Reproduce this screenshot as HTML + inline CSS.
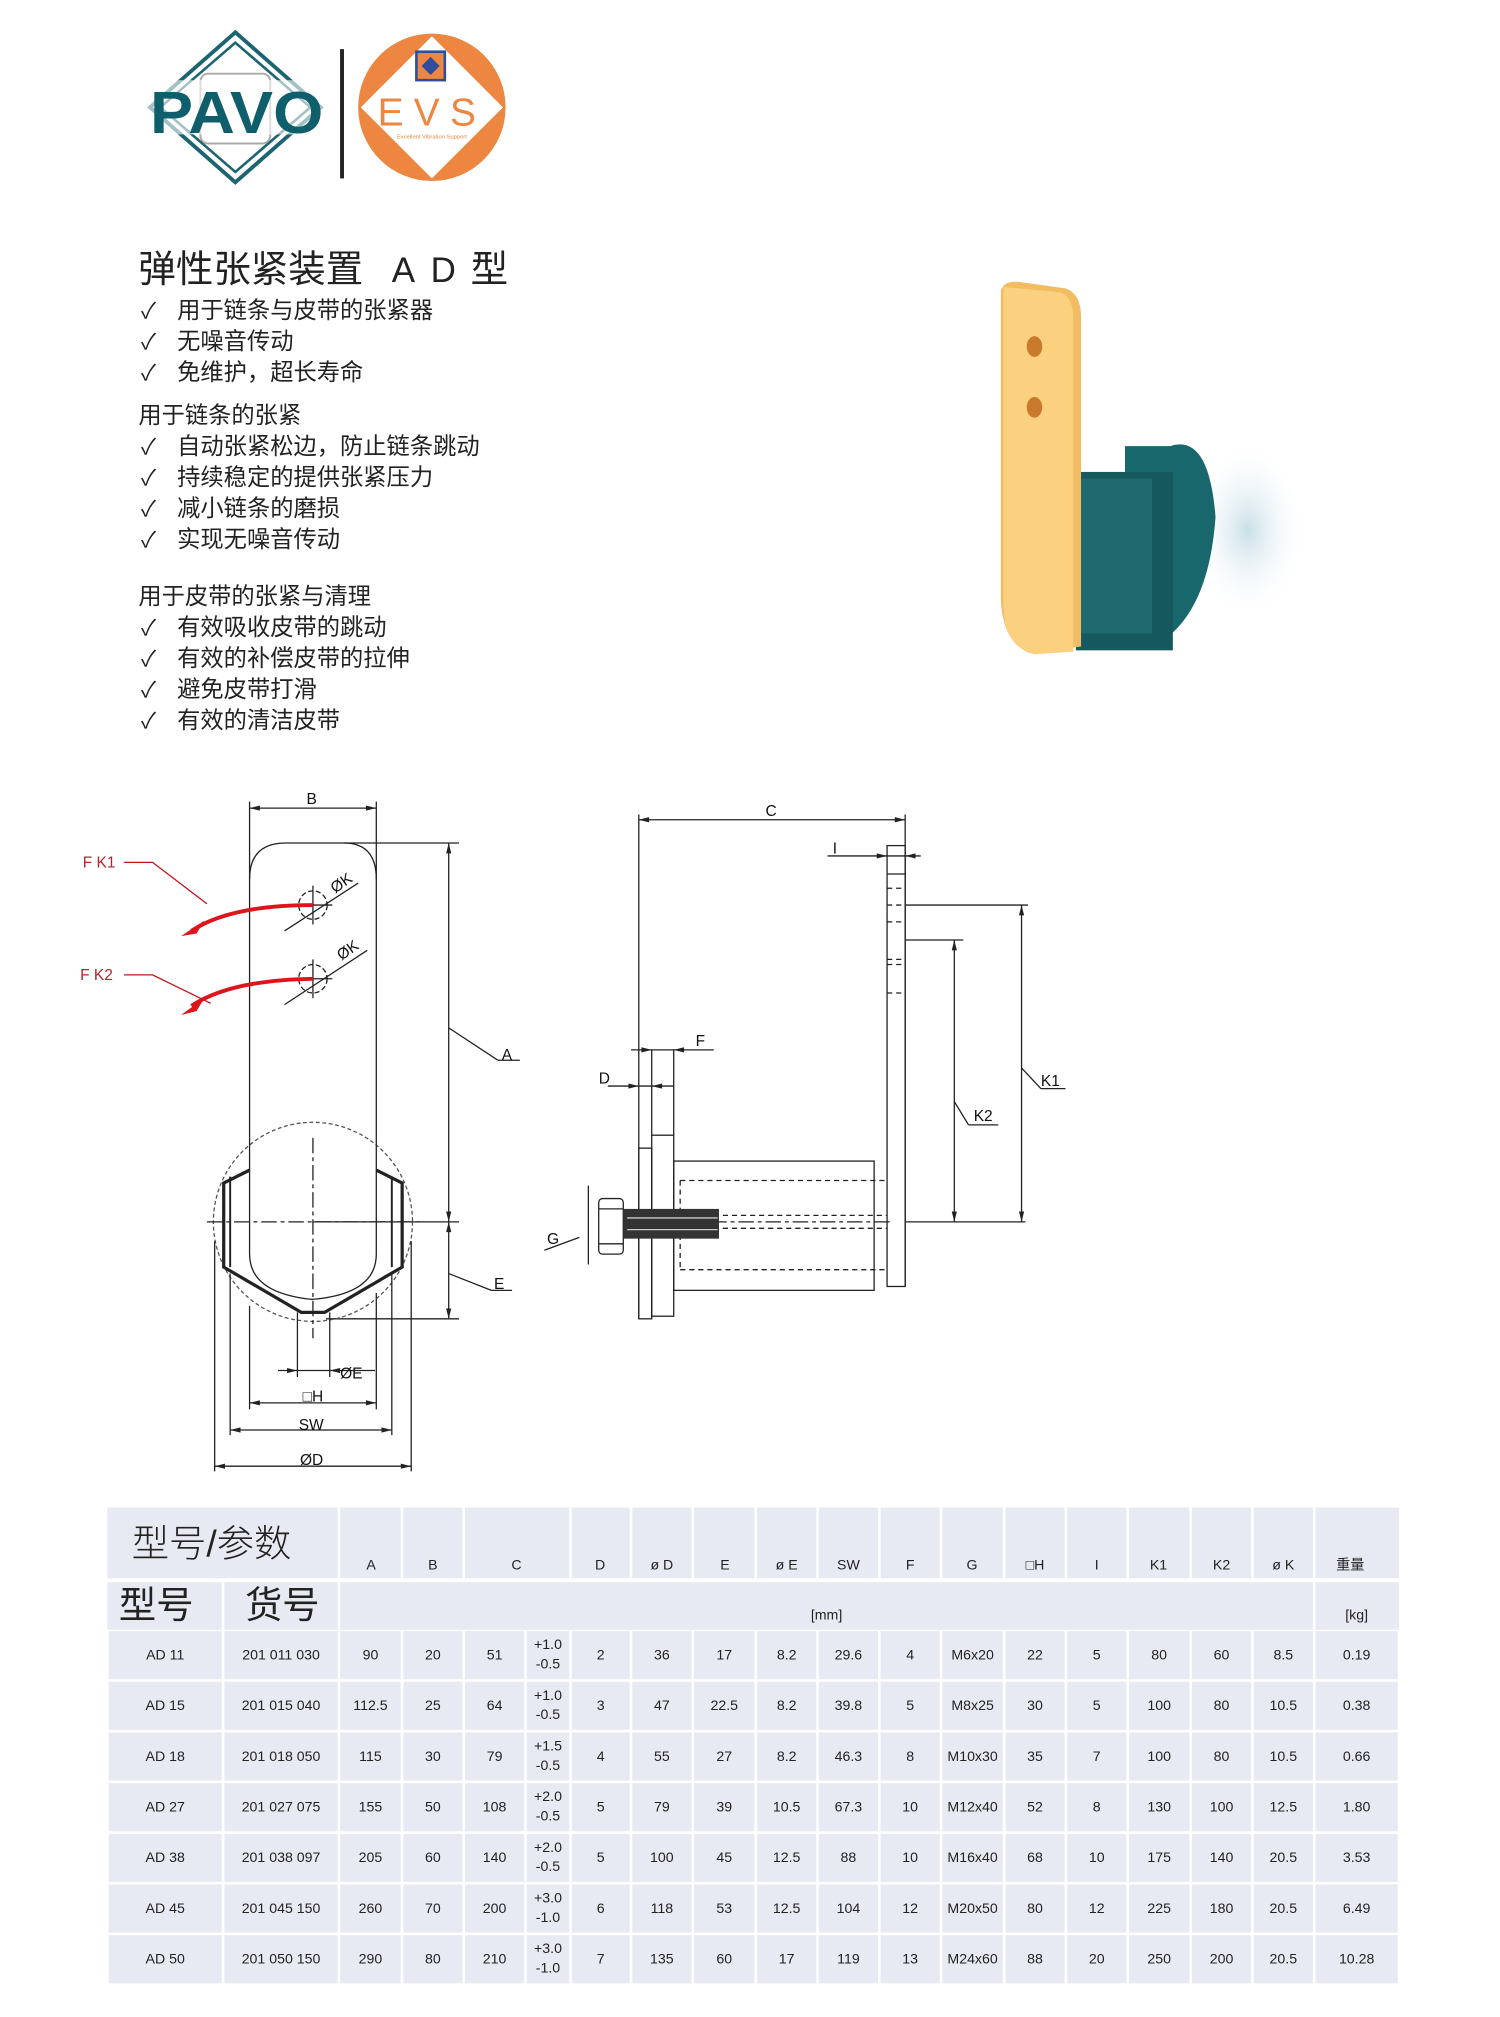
<!DOCTYPE html>
<html><head><meta charset="utf-8"><style>
html,body{margin:0;padding:0;background:#fff;width:1500px;height:2017px;overflow:hidden}
svg{display:block}
text{font-family:"Liberation Sans","Noto Sans CJK SC",sans-serif}
.cn{font-family:"Liberation Sans","Noto Sans CJK SC",sans-serif}
.t{font-size:11px;fill:#222;text-anchor:middle}
.d{font-family:"DejaVu Sans",sans-serif;font-size:12px;fill:#111}
</style></head><body>
<svg width="1500" height="2017" viewBox="0 0 1160 1560" preserveAspectRatio="none" xmlns="http://www.w3.org/2000/svg">
<g>
<polygon points="182,25 248,83 182,141 116,83" fill="none" stroke="#1c6470" stroke-width="3"/>
<polygon points="182,33 240,83 182,133 124,83" fill="none" stroke="#1c6470" stroke-width="2"/>
<rect x="155" y="57" width="54" height="54" rx="6" fill="none" stroke="#aaa" stroke-width="1.5"/>
<rect x="114" y="62" width="138" height="42" fill="#fff" opacity="0.6"/>
<text x="116" y="103" font-size="46" font-weight="bold" fill="#0f5e6b" textLength="134" lengthAdjust="spacingAndGlyphs">PAVO</text>
<rect x="263" y="38" width="3" height="100" fill="#222"/>
<circle cx="334" cy="83" r="57" fill="#ec8640"/>
<polygon points="334,28 389,83 334,138 279,83" fill="#fff"/>
<rect x="322" y="40" width="22" height="22" fill="#ec8640" stroke="#2f4d9a" stroke-width="2"/>
<polygon points="333,44 340,51 333,58 326,51" fill="#2f4d9a"/>
<text x="334" y="97" font-size="30" fill="#ec8640" text-anchor="middle" letter-spacing="8">EVS</text>
<text x="334" y="107" font-size="4.5" fill="#ec8640" text-anchor="middle">Excellent Vibration Support</text>
</g>
<g class="cn" fill="#222">
<text x="107" y="218" font-size="29">弹性张紧装置</text>
<text x="303" y="218" font-size="27" font-family="Liberation Serif">A</text>
<text x="333" y="218" font-size="27" font-family="Liberation Serif">D</text>
<text x="364" y="218" font-size="29">型</text>
<g font-size="18">
<g font-size="17"><text x="109" y="246">✓</text><text x="109" y="270">✓</text><text x="109" y="294">✓</text>
<text x="109" y="351">✓</text><text x="109" y="375">✓</text><text x="109" y="399">✓</text><text x="109" y="423">✓</text>
<text x="109" y="491">✓</text><text x="109" y="515">✓</text><text x="109" y="539">✓</text><text x="109" y="563">✓</text></g>
<text x="137" y="246">用于链条与皮带的张紧器</text>
<text x="137" y="270">无噪音传动</text>
<text x="137" y="294">免维护，超长寿命</text>
<text x="107" y="327">用于链条的张紧</text>
<text x="137" y="351">自动张紧松边，防止链条跳动</text>
<text x="137" y="375">持续稳定的提供张紧压力</text>
<text x="137" y="399">减小链条的磨损</text>
<text x="137" y="423">实现无噪音传动</text>
<text x="107" y="467">用于皮带的张紧与清理</text>
<text x="137" y="491">有效吸收皮带的跳动</text>
<text x="137" y="515">有效的补偿皮带的拉伸</text>
<text x="137" y="539">避免皮带打滑</text>
<text x="137" y="563">有效的清洁皮带</text>
</g></g>
<defs><radialGradient id="gl" cx="0.5" cy="0.5" r="0.5"><stop offset="0" stop-color="#c9dfe8"/><stop offset="1" stop-color="#fff" stop-opacity="0"/></radialGradient></defs>
<ellipse cx="965" cy="410" rx="45" ry="70" fill="url(#gl)"/>
<path d="M905,345 q30,-10 35,55 q-5,70 -40,95 l-30,0 l0,-150 z" fill="#17676c"/>
<rect x="832" y="365" width="75" height="138" fill="#15585e"/>
<rect x="836" y="370" width="55" height="120" fill="#1f6a6e"/>
<path d="M788,218 l36,5 q12,4 12,22 l0,255 l-40,5 q-20,-8 -22,-40 l0,-240 q2,-8 14,-7 z" fill="#f2bc62"/>
<path d="M776,222 l44,4 q10,4 10,20 l0,258 l-30,2 q-24,-6 -24,-38 z" fill="#fbd07e"/>
<ellipse cx="800" cy="268" rx="6" ry="8" fill="#c97a2c"/>
<ellipse cx="800" cy="315" rx="6" ry="8" fill="#c97a2c"/>
<g fill="none" stroke="#222" stroke-width="1">
<line x1="193" y1="620" x2="193" y2="880"/><line x1="291" y1="620" x2="291" y2="880"/>
<line x1="193" y1="625" x2="291" y2="625"/>
<path d="M193,680 q0,-28 28,-28 l45,0 q25,0 25,28"/>
<line x1="266" y1="652" x2="355" y2="652"/>
<line x1="347" y1="652" x2="347" y2="1020"/>
<line x1="242" y1="945" x2="355" y2="945"/>
<line x1="252" y1="1020" x2="355" y2="1020"/>
<line x1="347" y1="795" x2="385" y2="820"/><line x1="385" y1="820" x2="402" y2="820"/>
<line x1="347" y1="985" x2="380" y2="998"/><line x1="380" y1="998" x2="396" y2="998"/>
<circle cx="242" cy="700" r="11" stroke-dasharray="4,2"/>
<circle cx="242" cy="757" r="11" stroke-dasharray="4,2"/>
<line x1="242" y1="685" x2="242" y2="715"/><line x1="227" y1="700" x2="257" y2="700"/>
<line x1="242" y1="742" x2="242" y2="772"/><line x1="227" y1="757" x2="257" y2="757"/>
<line x1="220" y1="720" x2="277" y2="683"/><line x1="220" y1="777" x2="284" y2="735"/>
<circle cx="242" cy="945" r="77" stroke-dasharray="3,2" stroke="#555"/>
<path d="M193,880 l0,90 q0,30 48,35 q50,-4 50,-35 l0,-90"/>
<path d="M193,905 l-20,10 l0,65 l60,35 l18,0 l60,-35 l0,-65 l-20,-10" stroke-width="2.5"/>
<path d="M178,910 l0,70 m125,0 l0,-70" stroke-width="1.5"/>
<line x1="242" y1="880" x2="242" y2="1035" stroke-dasharray="12,3,3,3"/>
<line x1="160" y1="945" x2="325" y2="945" stroke-dasharray="12,3,3,3"/>
<line x1="230" y1="1015" x2="230" y2="1065"/><line x1="255" y1="1015" x2="255" y2="1065"/>
<line x1="215" y1="1060" x2="290" y2="1060"/>
<line x1="193" y1="1010" x2="193" y2="1090"/><line x1="291" y1="1000" x2="291" y2="1090"/>
<line x1="193" y1="1085" x2="291" y2="1085"/>
<line x1="178" y1="985" x2="178" y2="1110"/><line x1="303" y1="985" x2="303" y2="1110"/>
<line x1="178" y1="1106" x2="303" y2="1106"/>
<line x1="166" y1="960" x2="166" y2="1138"/><line x1="318" y1="960" x2="318" y2="1138"/>
<line x1="166" y1="1134" x2="318" y2="1134"/>
</g>
<g fill="#222">
<polygon points="193,625 201,623 201,627"/><polygon points="291,625 283,623 283,627"/>
<polygon points="347,652 345,660 349,660"/><polygon points="347,945 345,937 349,937"/>
<polygon points="347,945 345,953 349,953"/><polygon points="347,1020 345,1012 349,1012"/>
<polygon points="230,1060 222,1058 222,1062"/><polygon points="255,1060 263,1058 263,1062"/>
<polygon points="193,1085 201,1083 201,1087"/><polygon points="291,1085 283,1083 283,1087"/>
<polygon points="178,1106 186,1104 186,1108"/><polygon points="303,1106 295,1104 295,1108"/>
<polygon points="166,1134 174,1132 174,1136"/><polygon points="318,1134 310,1132 310,1136"/>
</g>
<g class="d">
<text x="237" y="622">B</text><text x="388" y="820">A</text><text x="382" y="997">E</text>
<text x="263" y="1066">ØE</text><text x="234" y="1084">□H</text><text x="231" y="1106">SW</text><text x="232" y="1133">ØD</text>
<text x="255" y="688" transform="rotate(-35 262 683)">ØK</text>
<text x="260" y="740" transform="rotate(-35 267 735)">ØK</text>
</g>
<g fill="none" stroke="#e0141c" stroke-width="3">
<path d="M148,720 q30,-20 94,-20"/><path d="M148,778 q30,-20 94,-21"/>
</g>
<g fill="none" stroke="#c0141c" stroke-width="1">
<path d="M96,667 l22,0 l42,32"/><path d="M96,754 l22,0 l45,22"/>
</g>
<g fill="#e0141c"><polygon points="140,724 158,712 152,722"/><polygon points="140,785 158,772 152,782"/></g>
<text x="64" y="671" font-size="12" fill="#b2262c">F  K1</text>
<text x="62" y="758" font-size="12" fill="#b2262c">F  K2</text>
<g fill="none" stroke="#222" stroke-width="1">
<line x1="494" y1="630" x2="494" y2="1020"/><line x1="700" y1="630" x2="700" y2="995"/>
<line x1="494" y1="634" x2="700" y2="634"/>
<rect x="686" y="654" width="14" height="341"/>
<line x1="686" y1="676" x2="700" y2="676"/>
<line x1="640" y1="662" x2="712" y2="662"/>
<g stroke-dasharray="4,3"><line x1="686" y1="700" x2="700" y2="700"/><line x1="686" y1="746" x2="700" y2="746"/>
<line x1="686" y1="687" x2="700" y2="687"/><line x1="686" y1="713" x2="700" y2="713"/>
<line x1="686" y1="742" x2="700" y2="742"/><line x1="686" y1="768" x2="700" y2="768"/></g>
<line x1="700" y1="700" x2="795" y2="700"/><line x1="700" y1="727" x2="745" y2="727"/>
<line x1="790" y1="700" x2="790" y2="945"/><line x1="738" y1="727" x2="738" y2="945"/>
<line x1="790" y1="826" x2="805" y2="842"/><line x1="805" y1="842" x2="824" y2="842"/>
<line x1="738" y1="852" x2="749" y2="870"/><line x1="749" y1="870" x2="772" y2="870"/>
<line x1="700" y1="945" x2="793" y2="945"/>
<rect x="494" y="888" width="10" height="132"/>
<rect x="504" y="878" width="17" height="140"/>
<line x1="504" y1="812" x2="504" y2="878"/><line x1="521" y1="812" x2="521" y2="878"/>
<line x1="488" y1="812" x2="552" y2="812"/><line x1="470" y1="840" x2="521" y2="840"/>
<rect x="521" y="898" width="155" height="100"/>
<g stroke-dasharray="4,3"><line x1="526" y1="913" x2="686" y2="913"/><line x1="526" y1="982" x2="686" y2="982"/>
<line x1="526" y1="913" x2="526" y2="982"/><line x1="545" y1="940" x2="686" y2="940"/><line x1="545" y1="950" x2="686" y2="950"/></g>
<line x1="550" y1="945" x2="690" y2="945" stroke-dasharray="12,3,3,3"/>
<rect x="463" y="927" width="19" height="43" rx="3"/>
<line x1="463" y1="935" x2="482" y2="935"/><line x1="463" y1="962" x2="482" y2="962"/>
<line x1="455" y1="917" x2="455" y2="978"/>
<line x1="448" y1="957" x2="421" y2="967"/>
</g>
<rect x="482" y="935" width="74" height="23" fill="#333"/>
<g stroke="#ccc" stroke-width="1"><line x1="485" y1="942" x2="555" y2="942"/><line x1="485" y1="951" x2="555" y2="951"/></g>
<g fill="#222">
<polygon points="494,634 502,632 502,636"/><polygon points="700,634 692,632 692,636"/>
<polygon points="686,662 678,660 678,664"/><polygon points="700,662 708,660 708,664"/>
<polygon points="504,812 496,810 496,814"/><polygon points="521,812 529,810 529,814"/>
<polygon points="494,840 486,838 486,842"/><polygon points="504,840 512,838 512,842"/>
<polygon points="790,700 788,708 792,708"/><polygon points="790,945 788,937 792,937"/>
<polygon points="738,727 736,735 740,735"/><polygon points="738,945 736,937 740,937"/>
</g>
<g class="d">
<text x="592" y="631">C</text><text x="644" y="660">I</text><text x="538" y="809">F</text>
<text x="463" y="838">D</text><text x="423" y="962">G</text>
<text x="805" y="840">K1</text><text x="753" y="867">K2</text>
</g>
<g transform="translate(83,1166) scale(0.995) translate(-83,-1170)">
<g fill="#e8eaf3">
<rect x="83" y="1170" width="179" height="55"/>
<rect x="264" y="1170" width="47" height="55"/><rect x="313" y="1170" width="46" height="55"/>
<rect x="361" y="1170" width="81" height="55"/><rect x="444" y="1170" width="45" height="55"/>
<rect x="491" y="1170" width="46" height="55"/><rect x="539" y="1170" width="47" height="55"/>
<rect x="588" y="1170" width="46" height="55"/><rect x="636" y="1170" width="46" height="55"/>
<rect x="684" y="1170" width="46" height="55"/><rect x="732" y="1170" width="47" height="55"/>
<rect x="781" y="1170" width="46" height="55"/><rect x="829" y="1170" width="46" height="55"/>
<rect x="877" y="1170" width="47" height="55"/><rect x="926" y="1170" width="46" height="55"/>
<rect x="974" y="1170" width="46" height="55"/><rect x="1022" y="1170" width="65" height="55"/>
<rect x="83" y="1228" width="89" height="37"/><rect x="174" y="1228" width="88" height="37"/>
<rect x="264" y="1228" width="756" height="37"/><rect x="1022" y="1228" width="65" height="37"/>
</g>
<g id="rows" fill="#e8eaf3"></g>
<g class="cn" fill="#222">
<text x="102" y="1208" font-size="29" font-weight="300">型号/参数</text>
<text x="92" y="1256" font-size="29">型号</text>
<text x="190" y="1256" font-size="29">货号</text>
</g>
<g class="t">
<text x="288" y="1218">A</text><text x="336" y="1218">B</text><text x="401" y="1218">C</text><text x="466" y="1218">D</text>
<text x="514" y="1218">ø D</text><text x="563" y="1218">E</text><text x="611" y="1218">ø E</text><text x="659" y="1218">SW</text>
<text x="707" y="1218">F</text><text x="755" y="1218">G</text><text x="804" y="1218">□H</text><text x="852" y="1218">I</text>
<text x="900" y="1218">K1</text><text x="949" y="1218">K2</text><text x="997" y="1218">ø K</text><text x="1049" y="1218" class="cn">重量</text>
<text x="642" y="1257">[mm]</text><text x="1054" y="1257">[kg]</text>
</g>
<g id="tb"></g>
</g>
<script>
(function(){
var ns="http://www.w3.org/2000/svg";
var b=[83,173,263,312,360,408,443,490,538,587,635,683,731,780,828,876,925,973,1021,1087];
var data=[
["AD 11","201 011 030","90","20","51","+1.0|-0.5","2","36","17","8.2","29.6","4","M6x20","22","5","80","60","8.5","0.19"],
["AD 15","201 015 040","112.5","25","64","+1.0|-0.5","3","47","22.5","8.2","39.8","5","M8x25","30","5","100","80","10.5","0.38"],
["AD 18","201 018 050","115","30","79","+1.5|-0.5","4","55","27","8.2","46.3","8","M10x30","35","7","100","80","10.5","0.66"],
["AD 27","201 027 075","155","50","108","+2.0|-0.5","5","79","39","10.5","67.3","10","M12x40","52","8","130","100","12.5","1.80"],
["AD 38","201 038 097","205","60","140","+2.0|-0.5","5","100","45","12.5","88","10","M16x40","68","10","175","140","20.5","3.53"],
["AD 45","201 045 150","260","70","200","+3.0|-1.0","6","118","53","12.5","104","12","M20x50","80","12","225","180","20.5","6.49"],
["AD 50","201 050 150","290","80","210","+3.0|-1.0","7","135","60","17","119","13","M24x60","88","20","250","200","20.5","10.28"]];
var R=document.getElementById("rows"),T=document.getElementById("tb");
for(var i=0;i<7;i++){var y=1266+i*39.4;
 for(var c=0;c<19;c++){var r=document.createElementNS(ns,"rect");
  r.setAttribute("x",b[c]+1);r.setAttribute("y",y);r.setAttribute("width",b[c+1]-b[c]-2);r.setAttribute("height",37.4);R.appendChild(r);
  var v=data[i][c],cx=(b[c]+b[c+1])/2;
  if(v.indexOf("|")>=0){var p=v.split("|");
   [[p[0],y+14],[p[1],y+29]].forEach(function(q){var t=document.createElementNS(ns,"text");t.setAttribute("class","t");t.setAttribute("x",cx);t.setAttribute("y",q[1]);t.textContent=q[0];T.appendChild(t);});}
  else{var t=document.createElementNS(ns,"text");t.setAttribute("class","t");t.setAttribute("x",cx);t.setAttribute("y",y+22);t.textContent=v;T.appendChild(t);}
 }}
})();
</script>
</svg>
</body></html>
